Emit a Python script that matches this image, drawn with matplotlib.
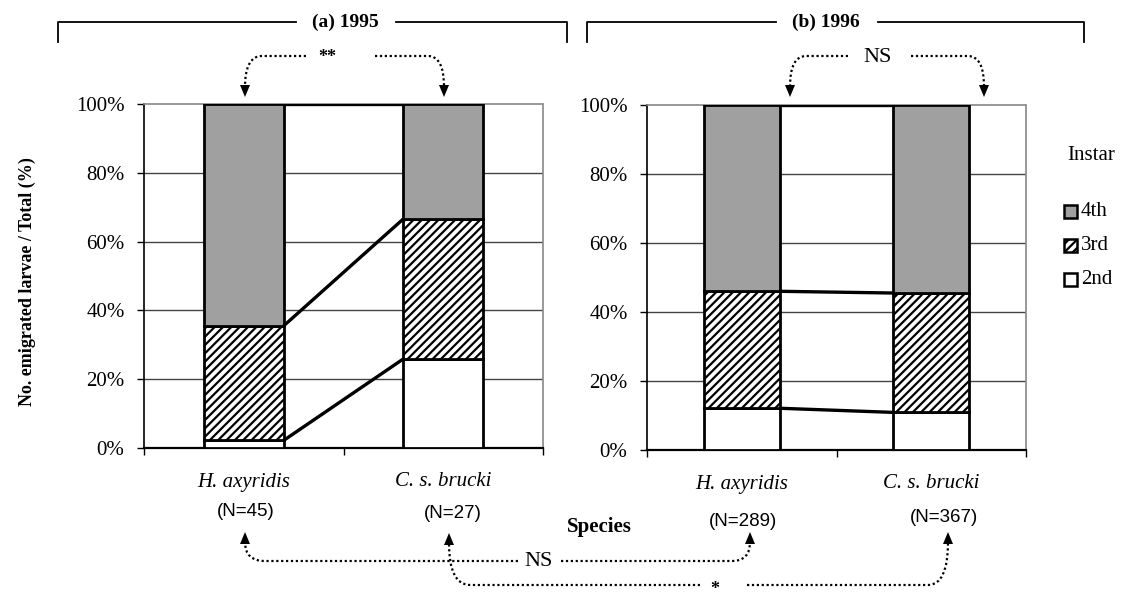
import matplotlib
matplotlib.use("Agg")
import matplotlib.pyplot as plt
from matplotlib.path import Path
from matplotlib.patches import PathPatch, Rectangle
import numpy as np

# ---- data -------------------------------------------------------------
species = ["H. axyridis", "C. s. brucki"]
instars = ["2nd", "3rd", "4th"]
n_1995 = [45, 27]
n_1996 = [289, 367]
# percentage of emigrated larvae per instar (stacked: 2nd, 3rd, 4th)
pct_1995_2nd = [2.2, 25.9]
pct_1995_3rd = [33.3, 40.7]
pct_1995_4th = [64.4, 33.3]
pct_1996_2nd = [12.1, 10.9]
pct_1996_3rd = [33.9, 34.6]
pct_1996_4th = [54.0, 54.5]
yticks = [0, 20, 40, 60, 80, 100]
ytick_labels = ["0%", "20%", "40%", "60%", "80%", "100%"]

SERIF = ["Liberation Serif", "DejaVu Serif"]
SANS = ["Liberation Sans", "DejaVu Sans"]
plt.rcParams["font.family"] = SERIF
plt.rcParams["hatch.linewidth"] = 1.6

styles = {
    "2nd": dict(facecolor="white", hatch=None),
    "3rd": dict(facecolor="white", hatch="////"),
    "4th": dict(facecolor="#a0a0a0", hatch=None),
}

fig = plt.figure(figsize=(11.24, 6.0), dpi=100)
W, H = 1124, 600


def fig_rect(x0, y0, x1, y1):
    return [x0 / W, 1 - y1 / H, (x1 - x0) / W, (y1 - y0) / H]


def panel(rect, layers, n_labels, n_offsets):
    ax = fig.add_axes(rect)
    x = np.arange(len(species))
    width = 0.4
    bottom = np.zeros(len(species))
    cum_levels = []
    for name, vals in zip(instars, layers):
        st = styles[name]
        ax.bar(x, vals, width, bottom=bottom, facecolor=st["facecolor"],
               hatch=st["hatch"], edgecolor="black", linewidth=2.0, zorder=3)
        bottom = bottom + np.array(vals)
        cum_levels.append(bottom.copy())
    # series lines joining the segment boundaries
    for lvl in cum_levels:
        ax.plot([x[0] + width / 2, x[1] - width / 2], [lvl[0], lvl[1]],
                color="black", lw=2.4, zorder=4, solid_capstyle="butt")
    ax.set_xlim(-0.5, 1.5)
    ax.set_ylim(0, 100)
    ax.set_yticks(yticks)
    ax.set_yticklabels(ytick_labels, fontsize=15)
    ax.set_xticks([-0.5, 0.5, 1.5])
    ax.set_xticklabels([])
    ax.tick_params(axis="both", direction="out", length=5, width=1,
                   color="black", pad=9)
    for yv in yticks[1:-1]:
        ax.axhline(yv, color="#444444", lw=1.0, zorder=1)
    for s in ("top", "right"):
        ax.spines[s].set_linestyle((0, (1, 1)))
        ax.spines[s].set_color("#888888")
        ax.spines[s].set_linewidth(1.2)
    ax.spines["left"].set_linewidth(1.2)
    ax.spines["bottom"].set_linewidth(1.6)
    trans = ax.get_xaxis_transform()
    for i, sp in enumerate(species):
        ax.annotate(sp, xy=(i, 0), xycoords=trans, xytext=(0, -34),
                    textcoords="offset pixels", ha="center", va="center",
                    fontsize=15, style="italic", annotation_clip=False)
        ax.annotate(f"(N={n_labels[i]})", xy=(i, 0), xycoords=trans,
                    xytext=n_offsets[i], textcoords="offset pixels",
                    ha="center", va="center", fontsize=13.5,
                    family=SANS, annotation_clip=False)
    return ax


ax_a = panel(fig_rect(144, 104, 543, 448),
             [pct_1995_2nd, pct_1995_3rd, pct_1995_4th], n_1995,
             [(2, -64), (10, -65)])
ax_b = panel(fig_rect(647, 105, 1026, 450),
             [pct_1996_2nd, pct_1996_3rd, pct_1996_4th], n_1996,
             [(1, -71), (13, -68)])

fig.text(27 / W, 1 - 282 / H, "No. emigrated larvae / Total (%)", rotation=90,
         ha="center", va="center", fontsize=13, fontweight="bold")

# ---- overlay for brackets, significance arrows and legend ------------
ov = fig.add_axes([0, 0, 1, 1])
ov.set_xlim(0, W)
ov.set_ylim(H, 0)
ov.axis("off")
ov.patch.set_visible(False)


def bracket(x0, x1, gap0, gap1, title, xt):
    y, yb = 22, 42
    ov.plot([x0, x0, gap0], [yb, y, y], color="black", lw=1.3)
    ov.plot([gap1, x1, x1], [y, y, yb], color="black", lw=1.3)
    ov.text(xt, y, title, ha="center", va="center",
            fontsize=14, fontweight="bold")


bracket(58, 567, 296, 396, "(a) 1995", 345)
bracket(587, 1084, 776, 878, "(b) 1996", 826)


def hook(start, bend, tip, head):
    sx, sy = start
    tx, ty = tip
    verts = [start, bend, (tx, sy), tip]
    codes = [Path.MOVETO, Path.LINETO, Path.CURVE3, Path.CURVE3]
    ov.add_patch(PathPatch(Path(verts, codes), fill=False, lw=1.6,
                           linestyle=(0, (1, 1.2)), edgecolor="black"))
    if head == "down":
        tri = [(tx - 5, ty - 2), (tx + 5, ty - 2), (tx, ty + 10)]
    else:
        tri = [(tx - 5, ty + 2), (tx + 5, ty + 2), (tx, ty - 10)]
    ov.fill([p[0] for p in tri], [p[1] for p in tri], color="black", lw=0)


# within-year comparisons
ov.text(327, 57, "**", ha="center", va="center", fontsize=13, fontweight="bold")
hook((306, 56), (262, 56), (245, 87), "down")
hook((375, 56), (428, 56), (444, 87), "down")
ov.text(878, 57, "NS", ha="center", va="center", fontsize=16)
hook((848, 56), (806, 56), (790, 87), "down")
hook((911, 56), (968, 56), (984, 87), "down")

# between-year comparisons
ov.text(599, 527, "Species", ha="center", va="center", fontsize=15,
        fontweight="bold")
ov.text(539, 562, "NS", ha="center", va="center", fontsize=16)
hook((518, 561), (265, 561), (245, 542), "up")
hook((561, 561), (732, 561), (750, 542), "up")
ov.text(715, 589, "*", ha="center", va="center", fontsize=13, fontweight="bold")
hook((700, 585), (470, 585), (449, 543), "up")
hook((747, 585), (928, 585), (948, 542), "up")

# legend
ov.text(1091, 155, "Instar", ha="center", va="center", fontsize=15)
for name, yc in zip(["4th", "3rd", "2nd"], [212, 246, 280]):
    st = styles[name]
    ov.add_patch(Rectangle((1064, yc - 7), 13, 13, facecolor=st["facecolor"],
                           hatch=st["hatch"], edgecolor="black", lw=1.8))
    ov.text(1081, yc, name, ha="left", va="center", fontsize=15)

fig.savefig("out.png", dpi=100, facecolor="white")
